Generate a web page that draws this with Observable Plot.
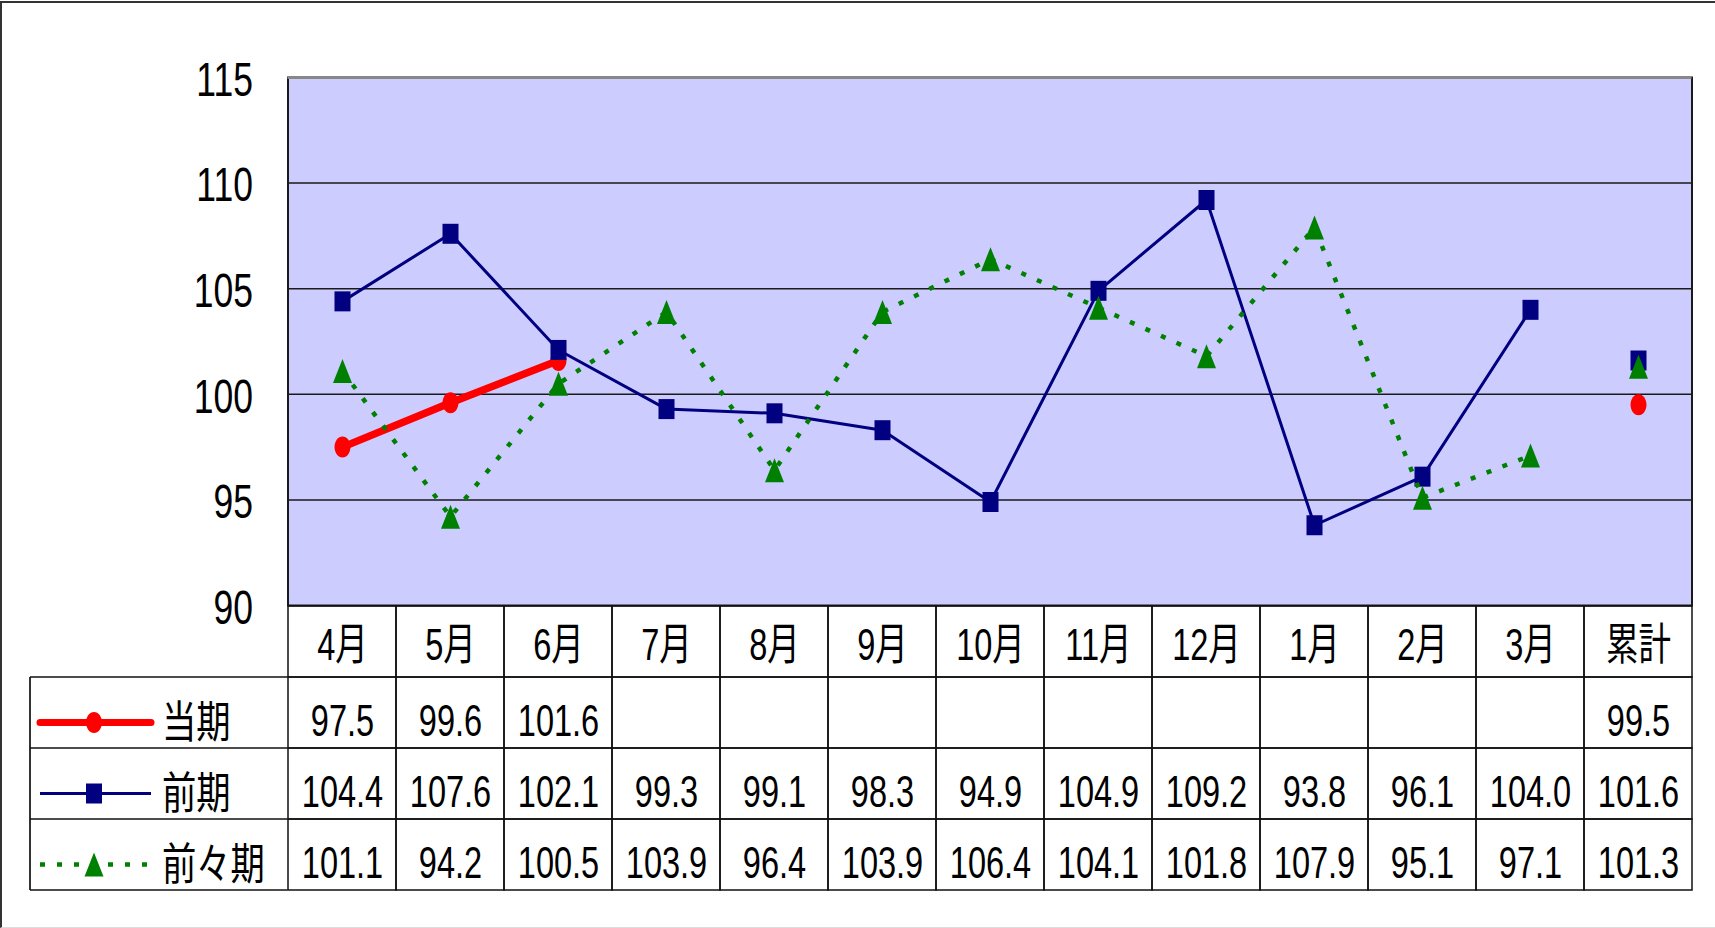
<!DOCTYPE html>
<html><head><meta charset="utf-8">
<script src="https://cdn.jsdelivr.net/npm/d3@7"></script>
<script src="https://cdn.jsdelivr.net/npm/@observablehq/plot@0.6"></script>
<style>
body{margin:0;background:#fff;}
#wrap{position:relative;width:1715px;height:928px;overflow:hidden;background:#fff;}
#frame{position:absolute;left:0;top:1px;width:1730px;height:927px;border-top:2px solid #333;border-left:2px solid #333;border-bottom:1px solid #ddd;box-sizing:border-box;}
.layer{position:absolute;left:0;}
</style></head><body>
<div id="wrap"><div id="frame"></div><div id="chart" class="layer" style="top:0"></div><div id="table" class="layer" style="top:604px"></div><svg id="legend" class="layer" style="top:0;pointer-events:none" width="1715" height="928"></svg></div>
<script>
const FONT = '"Liberation Sans","Noto Sans CJK JP",sans-serif';
const categories = ["4月","5月","6月","7月","8月","9月","10月","11月","12月","1月","2月","3月","累計"];
const cumulativeLabel = "累計";
const seriesNames = ["当期","前期","前々期"];
const touki    = [97.5, 99.6, 101.6, null, null, null, null, null, null, null, null, null, 99.5];
const zenki    = [104.4, 107.6, 102.1, 99.3, 99.1, 98.3, 94.9, 104.9, 109.2, 93.8, 96.1, 104.0, 101.6];
const zenzenki = [101.1, 94.2, 100.5, 103.9, 96.4, 103.9, 106.4, 104.1, 101.8, 107.9, 95.1, 97.1, 101.3];
const yTicks = [90, 95, 100, 105, 110, 115];
const gridValues = [95, 100, 105, 110];
const colors = ["#FF0000", "#000080", "#008000"];

const seriesValues = [touki, zenki, zenzenki];
const records = seriesNames.flatMap((s, i) => categories.map((c, j) => ({series: s, category: c, value: seriesValues[i][j]})));

// custom marker shapes
const rectSym = (w, h) => ({draw(ctx) { ctx.rect(-w / 2, -h / 2, w, h); }});
const triSym = (w, h) => ({draw(ctx) { ctx.moveTo(0, -h / 2); ctx.lineTo(w / 2, h / 2); ctx.lineTo(-w / 2, h / 2); ctx.closePath(); }});
const ellSym = (w, h) => ({draw(ctx) {
  const rx = w / 2, ry = h / 2, k = 0.5523;
  ctx.moveTo(rx, 0);
  ctx.bezierCurveTo(rx, ry * k, rx * k, ry, 0, ry);
  ctx.bezierCurveTo(-rx * k, ry, -rx, ry * k, -rx, 0);
  ctx.bezierCurveTo(-rx, -ry * k, -rx * k, -ry, 0, -ry);
  ctx.bezierCurveTo(rx * k, -ry, rx, -ry * k, rx, 0);
  ctx.closePath();
}});
const styles = [
  {stroke: colors[0], strokeWidth: 7.5, symbol: ellSym(16, 21)},
  {stroke: colors[1], strokeWidth: 3, symbol: rectSym(16, 20)},
  {stroke: colors[2], strokeWidth: 4.5, strokeDasharray: "5,12", symbol: triSym(19, 24)}
];

const lineMarks = seriesNames.flatMap((s, i) => {
  const st = styles[i];
  const lineData = records.filter(d => d.series === s && d.category !== cumulativeLabel && d.value != null);
  const dotData = records.filter(d => d.series === s && d.value != null);
  return [
    Plot.line(lineData, {x: "category", y: "value", stroke: st.stroke, strokeWidth: st.strokeWidth, strokeDasharray: st.strokeDasharray, strokeLinejoin: "round", strokeLinecap: "butt"}),
    Plot.dot(dotData, {x: "category", y: "value", symbol: st.symbol, fill: st.stroke, stroke: "none", r: 8})
  ];
});

// narrow the glyphs horizontally (the reference uses a condensed face)
function condense(svg, k) {
  d3.select(svg).selectAll("text").each(function () {
    const t = this.getAttribute("transform") || "";
    const xa = this.getAttribute("x");
    if (xa != null && !isNaN(+xa)) this.setAttribute("x", +xa / k);
    this.setAttribute("transform", `${t} scale(${k},1)`);
  });
}

const chart = Plot.plot({
  width: 1715, height: 612,
  marginTop: 77, marginBottom: 7, marginLeft: 287.5, marginRight: 23.5,
  style: {background: "transparent", fontFamily: FONT, color: "#000", overflow: "visible"},
  x: {type: "band", domain: categories, padding: 0, axis: null},
  y: {domain: [90, 115]},
  marks: [
    Plot.frame({fill: "#CCCCFF"}),
    Plot.ruleY(gridValues, {stroke: "#1a1a1a", strokeWidth: 1.5}),
    Plot.frame({stroke: "#1a1a1a", strokeWidth: 2}),
    Plot.ruleY([115], {stroke: "#888888", strokeWidth: 3}),
    Plot.axisY(yTicks, {tickSize: 0, tickPadding: 35, fontSize: 48, dy: 3, label: null}),
    ...lineMarks
  ]
});
condense(chart, 0.74);
document.getElementById("chart").appendChild(chart);

// table below the chart
const headerKey = "header";
const rowKeys = [headerKey, ...seriesNames];
const cells = rowKeys.flatMap(r => categories.map(c => ({row: r, category: c})));
const valueTexts = records.filter(d => d.value != null);
const table = Plot.plot({
  width: 1715, height: 287,
  marginTop: 1, marginBottom: 1, marginLeft: 287.5, marginRight: 23.5,
  style: {background: "transparent", fontFamily: FONT, color: "#000", overflow: "visible"},
  x: {type: "band", domain: categories, padding: 0, axis: null},
  y: {type: "band", domain: rowKeys, padding: 0, axis: null},
  marks: [
    Plot.cell(cells, {x: "category", y: "row", fill: "none", stroke: "#111", strokeWidth: 1.5, inset: 0}),
    Plot.text(categories, {x: d => d, y: () => headerKey, text: d => d, fontSize: 44, dy: 4}),
    Plot.text(valueTexts, {x: "category", y: "series", text: d => d.value.toFixed(1), fontSize: 44, dy: 9})
  ]
});
condense(table, 0.74);
document.getElementById("table").appendChild(table);

// legend column (left of the table)
const ys = table.scale("y");
const bw = ys.bandwidth;
const top0 = 604;
const leg = d3.select("#legend");
const x0 = 30, x1 = 287.5;
const firstTop = top0 + ys.apply(seriesNames[0]);
const lastBottom = top0 + ys.apply(seriesNames[seriesNames.length - 1]) + bw;
leg.append("line").attr("x1", x0).attr("x2", x0).attr("y1", firstTop).attr("y2", lastBottom).attr("stroke", "#333").attr("stroke-width", 2);
seriesNames.forEach((s, i) => {
  const top = top0 + ys.apply(s);
  const cy = top + bw / 2 + 10;
  leg.append("line").attr("x1", x0).attr("x2", x1).attr("y1", top).attr("y2", top).attr("stroke", "#111").attr("stroke-width", 1.5);
  const st = styles[i];
  leg.append("line").attr("x1", 40).attr("x2", 151).attr("y1", cy).attr("y2", cy)
    .attr("stroke", st.stroke).attr("stroke-width", i === 0 ? 7 : st.strokeWidth)
    .attr("stroke-dasharray", st.strokeDasharray || null).attr("stroke-linecap", i === 0 ? "round" : "butt");
  leg.append("path").attr("d", d3.symbol(st.symbol, 64)()).attr("transform", `translate(94,${cy})`).attr("fill", st.stroke);
  leg.append("text").attr("transform", `translate(162,${cy}) scale(0.78,1)`).attr("dy", "0.36em")
    .attr("font-family", FONT).attr("font-size", 44).attr("fill", "#000").text(s);
});
leg.append("line").attr("x1", x0).attr("x2", x1).attr("y1", lastBottom).attr("y2", lastBottom).attr("stroke", "#111").attr("stroke-width", 1.5);
</script>
</body></html>
